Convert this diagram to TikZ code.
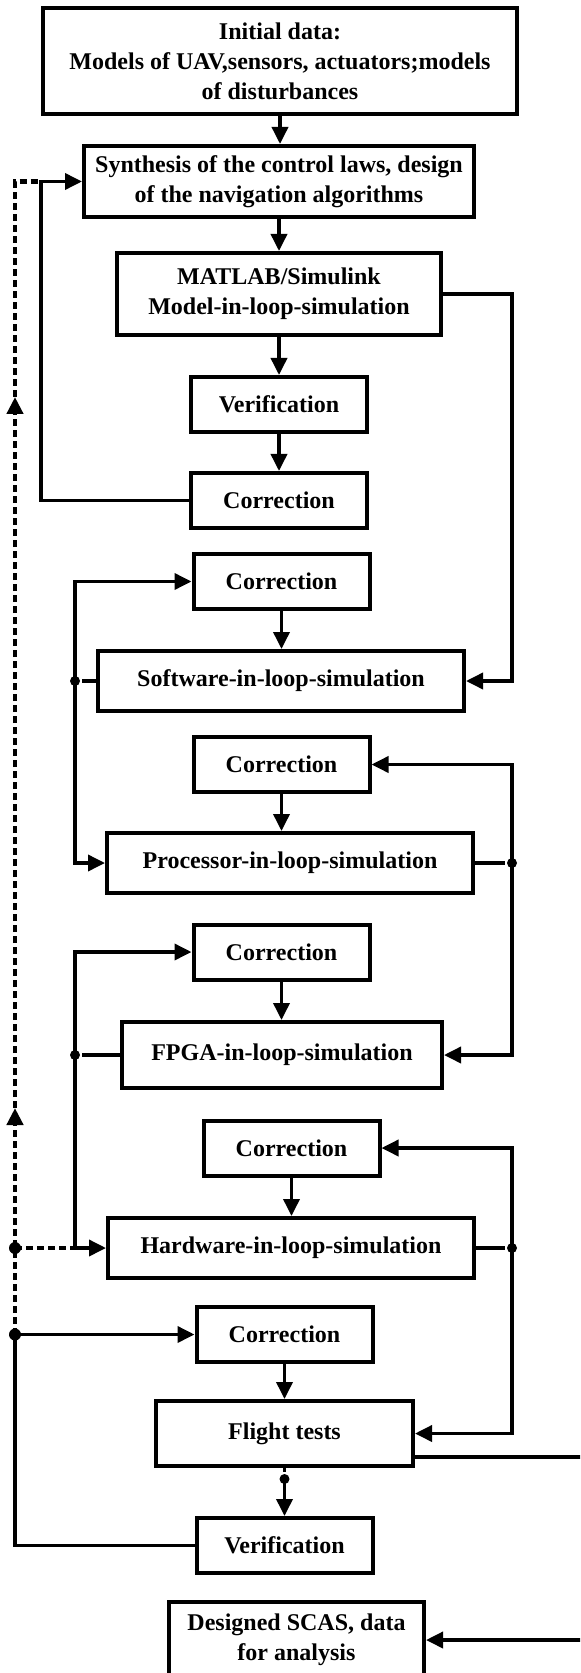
\documentclass[tikz,border=0pt]{standalone}
\usepackage{fontspec}
\setmainfont{Liberation Serif}
\usetikzlibrary{arrows.meta}

\begin{document}
\begin{tikzpicture}[
  x=0.5pt,y=-0.5pt,>={Triangle[length=8.5pt,width=8pt]},
  line width=1.8pt,
  blk/.style={draw,line width=2pt,align=center,
    font=\fontsize{12}{15}\selectfont\bfseries,inner sep=2pt},
  small/.style={blk,minimum width=88pt,minimum height=27.5pt},
  sim/.style={blk,minimum width=183pt,minimum height=30pt},
  fb/.style={dash pattern=on 3.5pt off 2pt,line width=2.2pt},
  dot/.style={circle,fill,inner sep=0pt,minimum size=5pt},
  bigdot/.style={dot,minimum size=6pt}
]
\useasboundingbox (0,0) rectangle (580,1673);
\clip (0,0) rectangle (580,1673);
% main chain
\node[blk,minimum width=237pt,minimum height=53pt] (init) at (280,61)
  {Initial data:\\Models of UAV,sensors, actuators;models\\of disturbances};
\node[blk,minimum width=195pt,minimum height=35.5pt] (synth) at (279,181.5)
  {Synthesis of the control laws, design\\of the navigation algorithms};
\node[blk,minimum width=162pt,minimum height=41pt] (mil) at (279,294)
  {MATLAB/Simulink\\Model-in-loop-simulation};
\node[small] (ver1) at (279,404.5) {Verification};
\node[small] (cor1) at (279,500.5) {Correction};
\node[small] (cor2) at (281.5,581.5) {Correction};
\node[sim]   (sil)  at (281,681) {Software-in-loop-simulation};
\node[small] (cor3) at (281.5,764.5) {Correction};
\node[sim]   (pil)  at (290,863) {Processor-in-loop-simulation};
\node[small] (cor4) at (281.5,952) {Correction};
\node[blk,minimum width=160pt,minimum height=33pt] (fil) at (282,1055)
  {FPGA-in-loop-simulation};
\node[small] (cor5) at (291.5,1148) {Correction};
\node[sim]   (hil)  at (291,1248) {Hardware-in-loop-simulation};
\node[small] (cor6) at (284.5,1334.5) {Correction};
\node[blk,minimum width=128.5pt,minimum height=32.5pt] (flt) at (284.5,1433.5)
  {Flight tests};
\node[small] (ver2) at (284.5,1545.5) {Verification};
\node[blk,minimum width=127.5pt,minimum height=38pt] (scas) at (296.5,1640)
  {Designed SCAS, data\\for analysis};
% junctions
\node[dot] (js) at (75,681) {};
\node[dot] (jp) at (512,863) {};
\node[dot] (jf) at (75,1055) {};
\node[dot] (jh) at (512,1248) {};
\node[bigdot] (jd) at (15,1248) {};
\node[bigdot] (jc) at (15,1334.5) {};
\node[dot] (jt) at (284.5,1479) {};
\coordinate (la) at (41,181.5);
\coordinate (fa) at (15,181.5);
\coordinate (up1) at (15,1108);
\coordinate (up2) at (15,397);
\coordinate (ra) at (512,294);
\coordinate (rb) at (592,1457);
% downward flow
\draw[->] (init) -- (init |- synth.north);
\draw[->] (synth) -- (mil);
\draw[->] (mil) -- (ver1);
\draw[->] (ver1) -- (cor1);
\draw[->] (cor2) -- (cor2 |- sil.north);
\draw[->] (cor3) -- (cor3 |- pil.north);
\draw[->] (cor4) -- (cor4 |- fil.north);
\draw[->] (cor5) -- (cor5 |- hil.north);
\draw[->] (cor6) -- (flt);
\draw (flt) -- (jt);
\draw[->] (jt.center) -- (ver2);
% left loops
\draw[->] (cor1.west) -| (la) -- (synth.west);
\draw (sil) -- (js);
\draw[->] (js.center) |- (cor2.west);
\draw[->] (js.center) |- (pil.west);
\draw (fil) -- (jf);
\draw[->] (jf.center) |- (cor4.west);
\draw[->] (jf.center) |- (hil.west);
\draw (ver2.west) -| (jc.center);
\draw[->] (jc.center) -- (cor6.west);
% right loops
\draw[->] (mil.east) -- (ra) |- (sil.east);
\draw (pil) -- (jp);
\draw[->] (jp.center) |- (cor3.east);
\draw[->] (jp.center) |- (fil.east);
\draw (hil) -- (jh);
\draw[->] (jh.center) |- (cor5.east);
\draw[->] (jh.center) |- (flt.east);
\draw[->] (flt.east |- rb) -- (rb) |- (scas.east);
% dashed return
\draw[fb,->] (jc.center) -- (up1);
\draw[fb,->] (up1) -- (up2);
\draw[fb] (up2) -- (fa) -- (la);
\draw[fb] (jd.center) -- (jf.center |- hil.west);
\end{tikzpicture}
\end{document}
